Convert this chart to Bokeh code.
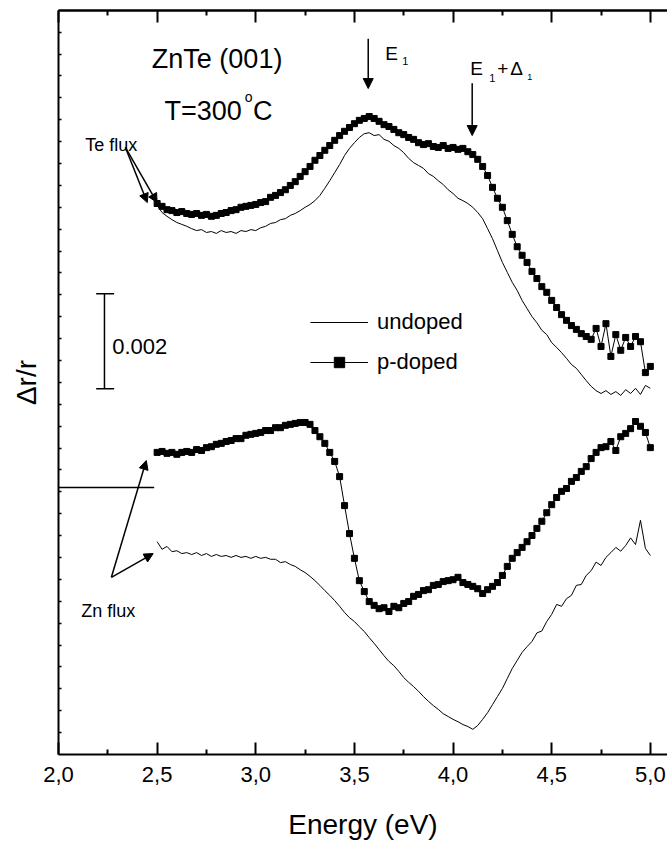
import numpy as np
from bokeh.plotting import figure
from bokeh.models import (Range1d, LinearAxis, FixedTicker, Label, Arrow,
                          NormalHead, Legend, LegendItem)
from bokeh.embed import file_html
from bokeh.resources import INLINE

FONT = "Liberation Sans"

# photon energy grid (eV)
energy = np.round(np.linspace(2.5, 5.0, 101), 3)

# Delta r / r in units of 1e-3 (arbitrary vertical offsets, as in the figure)
te_pdoped = [11.60, 11.54, 11.47, 11.45, 11.41, 11.43, 11.39, 11.37, 11.39, 11.35,
             11.37, 11.33, 11.35, 11.39, 11.41, 11.45, 11.47, 11.52, 11.54, 11.56,
             11.58, 11.62, 11.64, 11.73, 11.77, 11.83, 11.89, 11.98, 12.06, 12.17,
             12.27, 12.38, 12.51, 12.61, 12.72, 12.82, 12.93, 13.03, 13.12, 13.20,
             13.28, 13.35, 13.39, 13.43, 13.39, 13.33, 13.26, 13.22, 13.16, 13.09,
             13.05, 12.99, 12.95, 12.88, 12.84, 12.86, 12.80, 12.78, 12.82, 12.76,
             12.78, 12.74, 12.76, 12.69, 12.63, 12.53, 12.38, 12.19, 11.94, 11.71,
             11.52, 11.24, 10.95, 10.69, 10.51, 10.36, 10.17, 10.02, 9.85, 9.73,
             9.56, 9.41, 9.26, 9.14, 9.03, 8.95, 8.86, 8.80, 8.74, 8.97,
             8.59, 9.07, 8.38, 8.84, 8.51, 8.78, 8.59, 8.80, 8.69, 8.04,
             8.17]

te_undoped = [11.56, 11.41, 11.33, 11.26, 11.20, 11.16, 11.12, 11.07, 11.03, 11.05,
              10.99, 11.01, 10.97, 11.03, 10.99, 11.01, 10.97, 11.03, 11.01, 11.05,
              11.03, 11.09, 11.12, 11.18, 11.20, 11.26, 11.28, 11.35, 11.39, 11.45,
              11.52, 11.58, 11.66, 11.77, 11.92, 12.08, 12.25, 12.42, 12.61, 12.76,
              12.88, 12.99, 13.07, 13.09, 13.03, 13.05, 12.95, 12.91, 12.82, 12.76,
              12.67, 12.55, 12.46, 12.40, 12.34, 12.23, 12.17, 12.08, 12.00, 11.89,
              11.81, 11.71, 11.66, 11.60, 11.52, 11.41, 11.28, 11.07, 10.86, 10.61,
              10.36, 10.15, 9.94, 9.77, 9.56, 9.39, 9.22, 9.09, 8.93, 8.84,
              8.67, 8.57, 8.46, 8.34, 8.21, 8.13, 8.00, 7.87, 7.75, 7.66,
              7.60, 7.66, 7.58, 7.64, 7.56, 7.68, 7.60, 7.71, 7.58, 7.77,
              7.71]

zn_pdoped = [6.36, 6.38, 6.34, 6.36, 6.32, 6.36, 6.38, 6.36, 6.42, 6.40,
             6.46, 6.48, 6.53, 6.55, 6.59, 6.61, 6.65, 6.65, 6.72, 6.74,
             6.76, 6.78, 6.82, 6.82, 6.88, 6.88, 6.93, 6.95, 6.97, 6.99,
             6.99, 6.95, 6.82, 6.69, 6.55, 6.36, 6.17, 5.85, 5.24, 4.65,
             4.13, 3.66, 3.43, 3.22, 3.14, 3.07, 3.09, 3.01, 3.12, 3.09,
             3.18, 3.22, 3.33, 3.37, 3.45, 3.47, 3.56, 3.58, 3.64, 3.66,
             3.68, 3.73, 3.62, 3.58, 3.54, 3.49, 3.39, 3.47, 3.54, 3.62,
             3.77, 3.96, 4.13, 4.25, 4.36, 4.48, 4.61, 4.76, 4.91, 5.09,
             5.26, 5.41, 5.54, 5.60, 5.75, 5.83, 5.96, 6.06, 6.23, 6.36,
             6.46, 6.48, 6.59, 6.40, 6.69, 6.76, 6.86, 7.01, 6.91, 6.78,
             6.46]

zn_undoped = [4.48, 4.32, 4.38, 4.27, 4.29, 4.23, 4.25, 4.21, 4.25, 4.19,
              4.23, 4.17, 4.21, 4.17, 4.19, 4.15, 4.19, 4.15, 4.17, 4.13,
              4.17, 4.13, 4.15, 4.11, 4.11, 4.04, 4.06, 4.00, 3.96, 3.89,
              3.83, 3.75, 3.66, 3.56, 3.45, 3.35, 3.24, 3.12, 2.99, 2.88,
              2.80, 2.69, 2.59, 2.46, 2.34, 2.21, 2.08, 1.96, 1.87, 1.75,
              1.62, 1.52, 1.43, 1.33, 1.22, 1.12, 1.03, 0.95, 0.86, 0.80,
              0.74, 0.69, 0.63, 0.59, 0.53, 0.61, 0.74, 0.88, 1.05, 1.22,
              1.39, 1.60, 1.81, 1.98, 2.15, 2.27, 2.38, 2.56, 2.60, 2.80,
              2.95, 3.16, 3.12, 3.28, 3.35, 3.56, 3.58, 3.77, 3.87, 4.05,
              3.98, 4.15, 4.25, 4.36, 4.28, 4.40, 4.56, 4.42, 4.93, 4.34,
              4.19]

x_ticks = [2.0, 2.5, 3.0, 3.5, 4.0, 4.5, 5.0]
x_tick_labels = ["2,0", "2,5", "3,0", "3,5", "4,0", "4,5", "5,0"]
x_minor_ticks = [2.25, 2.75, 3.25, 3.75, 4.25, 4.75]
y_tick_step = 0.4608
y_minor_ticks = [round(y_tick_step * k, 4) for k in range(1, 34)]

zero_line_y = 5.62          # reference level drawn at the left
scale_bar_value = 2.0       # = 0.002 in units of 1e-3
scale_bar_x = 2.233
scale_bar_bottom = 7.70

p = figure(width=667, height=846,
           x_range=Range1d(2.0, 5.087), y_range=Range1d(0.0, 15.663),
           output_backend="svg", toolbar_location=None,
           min_border_left=58, min_border_right=0,
           min_border_top=10, min_border_bottom=92)
p.outline_line_color = None
p.xgrid.visible = False
p.ygrid.visible = False
p.background_fill_color = "white"
p.border_fill_color = "white"

# bottom axis
ax = p.xaxis[0]
ax.ticker = FixedTicker(ticks=x_ticks, minor_ticks=x_minor_ticks)
ax.major_label_overrides = {t: l for t, l in zip(x_ticks, x_tick_labels)}
ax.major_tick_in = 12
ax.major_tick_out = 0
ax.minor_tick_in = 5
ax.minor_tick_out = 0
ax.axis_line_width = 2
ax.major_tick_line_width = 2
ax.minor_tick_line_width = 2
ax.axis_line_color = "black"
ax.major_tick_line_color = "black"
ax.minor_tick_line_color = "black"
ax.major_label_text_font = FONT
ax.major_label_text_font_size = "22px"
ax.major_label_text_color = "black"
ax.major_label_standoff = 12
ax.axis_label = "Energy (eV)"
ax.axis_label_text_font = FONT
ax.axis_label_text_font_size = "28px"
ax.axis_label_text_font_style = "normal"
ax.axis_label_text_color = "black"
ax.axis_label_standoff = 24

# left axis (minor ticks only, no numbers)
ay = p.yaxis[0]
ay.ticker = FixedTicker(ticks=[], minor_ticks=y_minor_ticks)
ay.major_tick_in = 0
ay.major_tick_out = 0
ay.minor_tick_in = 3
ay.minor_tick_out = 0
ay.minor_tick_line_width = 1.5
ay.minor_tick_line_color = "black"
ay.axis_line_width = 2
ay.axis_line_color = "black"
ay.axis_label = "\u0394r/r"
ay.axis_label_text_font = FONT
ay.axis_label_text_font_size = "28px"
ay.axis_label_text_font_style = "normal"
ay.axis_label_text_color = "black"
ay.axis_label_standoff = 17

# top axis: long ticks at the labelled energies, short ticks between
for tick_pos, tick_len in ((x_ticks, 12), (x_minor_ticks, 5)):
    top = LinearAxis(ticker=FixedTicker(ticks=[], minor_ticks=tick_pos),
                     major_tick_in=0, major_tick_out=0,
                     minor_tick_in=tick_len, minor_tick_out=0,
                     axis_line_width=2, minor_tick_line_width=2,
                     axis_line_color="black", minor_tick_line_color="black")
    p.add_layout(top, "above")

# data
r_te_u = p.line(energy, te_undoped, line_color="black", line_width=1)
r_zn_u = p.line(energy, zn_undoped, line_color="black", line_width=1)
r_te_pl = p.line(energy, te_pdoped, line_color="black", line_width=1)
r_te_ps = p.scatter(energy, te_pdoped, marker="square", size=6,
                    fill_color="black", line_color="black")
r_zn_pl = p.line(energy, zn_pdoped, line_color="black", line_width=1)
r_zn_ps = p.scatter(energy, zn_pdoped, marker="square", size=6,
                    fill_color="black", line_color="black")

legend = Legend(items=[LegendItem(label="undoped", renderers=[r_te_u]),
                       LegendItem(label="p-doped", renderers=[r_te_pl, r_te_ps])],
                location=(252, 379), glyph_width=58, glyph_height=26,
                label_height=26, spacing=14, padding=0, margin=0,
                label_standoff=9, border_line_color=None,
                background_fill_alpha=0, label_text_font=FONT,
                label_text_font_size="22px", label_text_color="black")
p.add_layout(legend)

# reference line and scale bar
p.line([2.0, 2.485], [zero_line_y, zero_line_y], line_color="black", line_width=1.5)
sb_top = scale_bar_bottom + scale_bar_value
p.segment(x0=[scale_bar_x, scale_bar_x - 0.042, scale_bar_x - 0.042],
          y0=[scale_bar_bottom, scale_bar_bottom, sb_top],
          x1=[scale_bar_x, scale_bar_x + 0.049, scale_bar_x + 0.049],
          y1=[sb_top, scale_bar_bottom, sb_top],
          line_color="black", line_width=1.5)


def txt(x, y, s, size, align="left"):
    p.add_layout(Label(x=x, y=y, text=s, text_font=FONT, text_font_size=size,
                       text_align=align, text_baseline="alphabetic",
                       text_color="black"))


txt(2.272, 8.59, "0.002", "22px")
txt(2.804, 14.65, "ZnTe (001)", "27px", align="center")
txt(2.733, 13.54, "T=300", "27px", align="center")
txt(2.964, 13.85, "o", "14px", align="center")
txt(3.035, 13.54, "C", "27px", align="center")
txt(3.656, 14.76, "E", "19px")
txt(3.742, 14.61, "1", "11px")
txt(4.087, 14.44, "E", "19px")
txt(4.183, 14.25, "1", "11px")
txt(4.224, 14.44, "+", "19px")
txt(4.290, 14.44, "\u0394", "19px")
txt(4.376, 14.27, "1", "9px")
txt(2.136, 12.84, "Te flux", "18px")
txt(2.115, 3.03, "Zn flux", "18px")


def arrow(x0, y0, x1, y1, size=10):
    p.add_layout(Arrow(end=NormalHead(size=size, fill_color="black", line_color="black",
                                      line_width=1),
                       x_start=x0, y_start=y0, x_end=x1, y_end=y1,
                       line_color="black", line_width=1.5))


arrow(3.570, 15.07, 3.570, 14.02)
arrow(4.097, 14.13, 4.097, 13.03)
arrow(2.339, 12.78, 2.450, 11.62, size=9)
arrow(2.339, 12.78, 2.500, 11.62, size=9)
arrow(2.268, 3.73, 2.445, 6.19, size=9)
arrow(2.268, 3.73, 2.480, 4.23, size=9)

open("out.html", "w").write(file_html(p, INLINE))
